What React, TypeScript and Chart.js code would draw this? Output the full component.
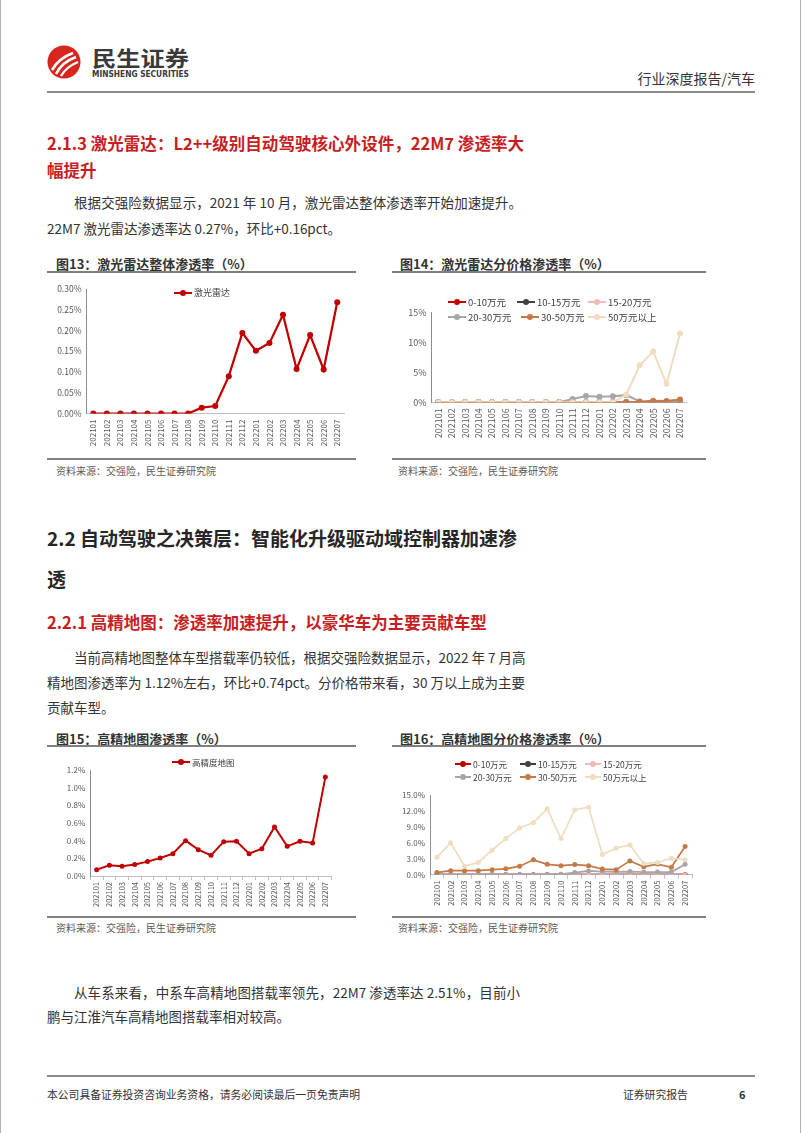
import React, { useEffect, useRef } from "react";
import { Chart, registerables } from "chart.js";
Chart.register(...registerables);

// ---------- data ----------
const months = [
  "202101", "202102", "202103", "202104", "202105", "202106", "202107", "202108", "202109", "202110",
  "202111", "202112", "202201", "202202", "202203", "202204", "202205", "202206", "202207",
];

// Fig 13: lidar overall penetration (%)
const lidarName = "激光雷达";
const lidarTotal = [0, 0, 0, 0, 0, 0, 0, 0, 0.014, 0.018, 0.09, 0.194, 0.151, 0.17, 0.238, 0.107, 0.189, 0.106, 0.268];
const lidarYTicks = [0, 0.05, 0.1, 0.15, 0.2, 0.25, 0.3];

// price bands
const bandNames = ["0-10万元", "10-15万元", "15-20万元", "20-30万元", "30-50万元", "50万元以上"];
const bandColors = ["#C00000", "#404040", "#F2B8B8", "#A6A6A6", "#C47A46", "#F0DCC0"];

// Fig 14: lidar by price band (%)
const lidar0_10 = [0, 0, 0, 0, 0, 0, 0, 0, 0, 0, 0, 0, 0, 0, 0, 0, 0, 0, 0];
const lidar10_15 = [0, 0, 0, 0, 0, 0, 0, 0, 0, 0, 0, 0, 0, 0, 0, 0, 0, 0, 0];
const lidar15_20 = [0, 0, 0, 0, 0, 0, 0, 0, 0, 0, 0, 0, 0, 0, 0, 0, 0, 0, 0];
const lidar20_30 = [0, 0, 0, 0, 0, 0, 0, 0, 0, 0, 0.55, 1.05, 0.95, 1.0, 1.2, 0.15, 0.1, 0.1, 0.15];
const lidar30_50 = [0, 0, 0, 0, 0, 0, 0, 0, 0, 0, 0, 0, 0, 0, 0, 0.1, 0.25, 0.2, 0.45];
const lidar50 = [0, 0, 0, 0, 0, 0, 0, 0, 0, 0, 0, 0, 0, 0, 1.3, 6.2, 8.5, 3.1, 11.5];
const lidarBandYTicks = [0, 5, 10, 15];

// Fig 15: HD map overall penetration (%)
const hdName = "高精度地图";
const hdTotal = [0.072, 0.121, 0.11, 0.13, 0.163, 0.204, 0.253, 0.4, 0.298, 0.234, 0.389, 0.392, 0.253, 0.309, 0.555, 0.336, 0.392, 0.374, 1.12];
const hdYTicks = [0, 0.2, 0.4, 0.6, 0.8, 1.0, 1.2];

// Fig 16: HD map by price band (%)
const hd0_10 = [0, 0, 0, 0, 0, 0, 0, 0, 0, 0, 0, 0, 0, 0, 0, 0, 0, 0, 0];
const hd10_15 = [0, 0, 0, 0, 0, 0, 0, 0, 0, 0, 0, 0, 0, 0, 0, 0, 0, 0, 0];
const hd15_20 = [0, 0, 0, 0, 0, 0, 0, 0, 0, 0, 0, 0, 0, 0, 0, 0, 0, 0, 0];
const hd20_30 = [0, 0, 0, 0, 0, 0, 0, 0, 0, 0.1, 0.4, 0.7, 0.6, 0.55, 0.6, 0.5, 0.5, 0.5, 1.95];
const hd30_50 = [0.4, 0.75, 0.75, 0.75, 0.95, 1.1, 1.6, 2.8, 1.95, 1.7, 1.9, 1.7, 1.05, 0.95, 2.6, 1.5, 2.0, 1.4, 5.3];
const hd50 = [3.3, 6.0, 1.6, 2.3, 4.6, 6.8, 8.8, 9.8, 12.4, 6.8, 12.2, 12.7, 3.8, 5.0, 5.6, 2.1, 2.3, 3.1, 2.8];
const hdBandYTicks = [0, 3, 6, 9, 12, 15];

// ---------- helpers ----------
const FONT = '"Noto Sans CJK SC", "Noto Sans", sans-serif';
Chart.defaults.font.family = FONT;

type Geo = { left: number; top: number; w: number; h: number; aL: number; aR: number; aT: number; aB: number };

function buildOptions(geo: Geo, yTicks: number[], fmt: (v: number) => string, xFont: number, yFont: number, xTicks: boolean) {
  return {
    responsive: false,
    animation: false,
    events: [],
    layout: { padding: { top: geo.aT, right: geo.w - geo.aR, left: 0, bottom: 0 } },
    plugins: { legend: { display: false }, tooltip: { enabled: false } },
    scales: {
      x: {
        type: "category",
        offset: true,
        grid: { display: xTicks, drawOnChartArea: false, drawTicks: true, tickLength: 4, offset: true, color: "#bfbfbf" },
        border: { display: true, color: "#bfbfbf", width: 1 },
        ticks: { autoSkip: false, maxRotation: 90, minRotation: 90, padding: 2, color: "#595959", font: { size: xFont } },
        afterFit: (s: any) => {
          s.height = geo.h - geo.aB;
        },
      },
      y: {
        type: "linear",
        min: yTicks[0],
        max: yTicks[yTicks.length - 1],
        grid: { display: false, drawTicks: false },
        border: { display: true, color: "#8c8c8c", width: 1 },
        ticks: { padding: 5, color: "#595959", font: { size: yFont }, callback: (v: any) => fmt(Number(v)) },
        afterBuildTicks: (s: any) => {
          s.ticks = yTicks.map((v) => ({ value: v }));
        },
        afterFit: (s: any) => {
          s.width = geo.aL;
        },
      },
    },
  };
}

function ds(label: string, data: number[], color: string, order: number, lw: number, r: number) {
  return {
    label,
    data,
    borderColor: color,
    backgroundColor: color,
    borderWidth: lw,
    pointRadius: r,
    pointBorderWidth: 0,
    pointBackgroundColor: color,
    tension: 0,
    order,
  };
}

function ChartBox({ geo, make }: { geo: Geo; make: () => any }) {
  const ref = useRef<HTMLCanvasElement>(null);
  useEffect(() => {
    const chart = new Chart(ref.current as HTMLCanvasElement, make());
    return () => chart.destroy();
  }, []);
  return (
    <div style={{ position: "absolute", left: geo.left, top: geo.top, width: geo.w, height: geo.h }}>
      <canvas ref={ref} width={geo.w} height={geo.h} style={{ width: geo.w, height: geo.h, display: "block" }} />
    </div>
  );
}

function Leg({ x, y, color, text, size, w = 18 }: { x: number; y: number; color: string; text: string; size: number; w?: number }) {
  return (
    <>
      <div style={{ position: "absolute", left: x, top: y - 1, width: w, height: 2, background: color }} />
      <div style={{ position: "absolute", left: x + w / 2 - 3, top: y - 3, width: 6, height: 6, borderRadius: 3, background: color }} />
      <div
        style={{
          position: "absolute",
          left: x + w + 2,
          top: y - size * 0.75,
          fontSize: size,
          lineHeight: `${size * 1.5}px`,
          color: "#404040",
          whiteSpace: "nowrap",
        }}
      >
        {text}
      </div>
    </>
  );
}

function T({
  x, y, size, children, color = "#333", weight = 400, w, right,
}: { x: number; y: number; size: number; children: any; color?: string; weight?: number; w?: number; right?: boolean }) {
  const lh = Math.round(size * 1.5);
  const st: any = {
    position: "absolute",
    top: y - lh / 2,
    fontSize: size,
    lineHeight: `${lh}px`,
    color,
    fontWeight: weight,
    whiteSpace: "nowrap",
  };
  if (right) st.right = 802 - x;
  else st.left = x;
  if (w) {
    st.width = w;
    st.textAlign = "justify";
    st.textAlignLast = "justify";
  }
  return <div style={st}>{children}</div>;
}

function HLine({ x1, x2, y, color = "#7f7f7f", t = 2 }: { x1: number; x2: number; y: number; color?: string; t?: number }) {
  return <div style={{ position: "absolute", left: x1, top: y - t / 2, width: x2 - x1, height: t, background: color }} />;
}

// ---------- geometry ----------
const g13: Geo = { left: 47, top: 278, w: 310, h: 180, aL: 39.5, aR: 297, aT: 11, aB: 135.5 };
const g14: Geo = { left: 392, top: 278, w: 314, h: 180, aL: 39.6, aR: 294.7, aT: 34.7, aB: 124.3 };
const g15: Geo = { left: 47, top: 750, w: 310, h: 165, aL: 43.3, aR: 284.7, aT: 20, aB: 126 };
const g16: Geo = { left: 392, top: 750, w: 314, h: 165, aL: 38, aR: 300, aT: 45, aB: 124.7 };

const make13 = () => ({
  type: "line",
  data: { labels: months, datasets: [ds(lidarName, lidarTotal, "#C00000", 0, 2.25, 3)] },
  options: buildOptions(g13, lidarYTicks, (v) => v.toFixed(2) + "%", 8, 8.5, false),
});

const lidarBands = [lidar0_10, lidar10_15, lidar15_20, lidar20_30, lidar30_50, lidar50];
const make14 = () => ({
  type: "line",
  data: { labels: months, datasets: lidarBands.map((d, i) => ds(bandNames[i], d, bandColors[i], 5 - i, 2, 3)) },
  options: buildOptions(g14, lidarBandYTicks, (v) => v.toFixed(0) + "%", 9, 9, false),
});

const make15 = () => ({
  type: "line",
  data: { labels: months, datasets: [ds(hdName, hdTotal, "#C00000", 0, 2, 2.5)] },
  options: buildOptions(g15, hdYTicks, (v) => v.toFixed(1) + "%", 7.5, 8, true),
});

const hdBands = [hd0_10, hd10_15, hd15_20, hd20_30, hd30_50, hd50];
const make16 = () => ({
  type: "line",
  data: { labels: months, datasets: hdBands.map((d, i) => ds(bandNames[i], d, bandColors[i], 5 - i, 1.75, 2.5)) },
  options: buildOptions(g16, hdBandYTicks, (v) => v.toFixed(1) + "%", 7.5, 8, true),
});

// legend layout columns
const leg14 = [
  { x: 448, y: 302 }, { x: 517, y: 302 }, { x: 588, y: 302 },
  { x: 448, y: 317 }, { x: 521, y: 317 }, { x: 588, y: 317 },
];
const leg16 = [
  { x: 455, y: 764 }, { x: 520, y: 764 }, { x: 585, y: 764 },
  { x: 455, y: 777 }, { x: 520, y: 777 }, { x: 585, y: 777 },
];

const RED = "#C71D23";

export default function App() {
  return (
    <div
      style={{
        position: "absolute",
        left: 0,
        top: 0,
        width: 802,
        height: 1133,
        background: "#fff",
        overflow: "hidden",
        fontFamily: FONT,
      }}
    >
      <div style={{ position: "absolute", left: 0, top: 0, width: 1, height: 1133, background: "#b0b0b0" }} />
      <div style={{ position: "absolute", left: 800, top: 0, width: 1, height: 1133, background: "#b0b0b0" }} />

      {/* header */}
      <svg style={{ position: "absolute", left: 47, top: 45 }} width={34} height={34} viewBox="0 0 34 34">
        <circle cx={17} cy={17} r={16.5} fill="#D7261E" />
        <path d="M5 25 Q 12 13 26 8" stroke="#fff" strokeWidth={2.6} fill="none" />
        <path d="M9 29 Q 15 17 29 12" stroke="#fff" strokeWidth={2.6} fill="none" />
        <path d="M14 31 Q 19 22 31 17" stroke="#fff" strokeWidth={2.2} fill="none" />
      </svg>
      <svg style={{ position: "absolute", left: 90, top: 46 }} width={104} height={36}>
        <text x={2} y={20} fontSize={21} fontWeight={700} fill="#3a3a3a" textLength={97} lengthAdjust="spacingAndGlyphs" fontFamily={FONT}>
          民生证券
        </text>
        <text x={2} y={31} fontSize={8} fontWeight={700} fill="#3a3a3a" textLength={97} lengthAdjust="spacingAndGlyphs" fontFamily='"DejaVu Sans", sans-serif'>
          MINSHENG SECURITIES
        </text>
      </svg>
      <T x={755} y={78} size={14} color="#333" right>
        行业深度报告/汽车
      </T>
      <HLine x1={47} x2={755} y={92} color="#8c8c8c" t={2} />

      {/* section 2.1.3 */}
      <T x={47} y={143} size={16.5} weight={700} color={RED} w={477}>
        2.1.3 激光雷达：L2++级别自动驾驶核心外设件，22M7 渗透率大
      </T>
      <T x={47} y={170} size={16.5} weight={700} color={RED}>
        幅提升
      </T>
      <T x={74} y={202} size={13.5} w={448}>
        根据交强险数据显示，2021 年 10 月，激光雷达整体渗透率开始加速提升。
      </T>
      <T x={47} y={228} size={13.5}>
        22M7 激光雷达渗透率达 0.27%，环比+0.16pct。
      </T>

      {/* fig 13 / 14 */}
      <T x={56} y={264} size={13} weight={700} color="#333">
        图13：激光雷达整体渗透率（%）
      </T>
      <T x={400} y={264} size={13} weight={700} color="#333">
        图14：激光雷达分价格渗透率（%）
      </T>
      <HLine x1={47} x2={356} y={272} />
      <HLine x1={392} x2={706} y={272} />

      <ChartBox geo={g13} make={make13} />
      <Leg x={174} y={293} color="#C00000" text={lidarName} size={9} />

      <ChartBox geo={g14} make={make14} />
      {bandNames.map((n, i) => (
        <Leg key={n} x={leg14[i].x} y={leg14[i].y} color={bandColors[i]} text={n} size={9.5} />
      ))}

      <HLine x1={47} x2={356} y={459} />
      <HLine x1={392} x2={706} y={459} />
      <T x={56} y={470} size={10} color="#595959">
        资料来源：交强险，民生证券研究院
      </T>
      <T x={398} y={470} size={10} color="#595959">
        资料来源：交强险，民生证券研究院
      </T>

      {/* section 2.2 */}
      <T x={47} y={537} size={19} weight={700} color="#262626">
        2.2 自动驾驶之决策层：智能化升级驱动域控制器加速渗
      </T>
      <T x={47} y={578} size={19} weight={700} color="#262626">
        透
      </T>
      <T x={47} y={622} size={16.5} weight={700} color={RED}>
        2.2.1 高精地图：渗透率加速提升，以豪华车为主要贡献车型
      </T>
      <T x={74} y={657} size={13.5} w={448}>
        当前高精地图整体车型搭载率仍较低，根据交强险数据显示，2022 年 7 月高
      </T>
      <T x={47} y={682} size={13.5} w={475}>
        精地图渗透率为 1.12%左右，环比+0.74pct。分价格带来看，30 万以上成为主要
      </T>
      <T x={47} y={707} size={13.5}>
        贡献车型。
      </T>

      {/* fig 15 / 16 */}
      <T x={56} y={739} size={13} weight={700} color="#333">
        图15：高精地图渗透率（%）
      </T>
      <T x={400} y={739} size={13} weight={700} color="#333">
        图16：高精地图分价格渗透率（%）
      </T>
      <HLine x1={47} x2={356} y={746} />
      <HLine x1={392} x2={706} y={746} />

      <ChartBox geo={g15} make={make15} />
      <Leg x={172} y={762} color="#C00000" text={hdName} size={8.5} />

      <ChartBox geo={g16} make={make16} />
      {bandNames.map((n, i) => (
        <Leg key={n} x={leg16[i].x} y={leg16[i].y} color={bandColors[i]} text={n} size={8.5} w={16} />
      ))}

      <HLine x1={47} x2={356} y={917} />
      <HLine x1={392} x2={706} y={917} />
      <T x={56} y={927} size={10} color="#595959">
        资料来源：交强险，民生证券研究院
      </T>
      <T x={398} y={927} size={10} color="#595959">
        资料来源：交强险，民生证券研究院
      </T>

      <T x={74} y={992} size={13.5} w={446}>
        从车系来看，中系车高精地图搭载率领先，22M7 渗透率达 2.51%，目前小
      </T>
      <T x={47} y={1016} size={13.5}>
        鹏与江淮汽车高精地图搭载率相对较高。
      </T>

      {/* footer */}
      <HLine x1={47} x2={755} y={1076} color="#8c8c8c" t={1.5} />
      <T x={47} y={1094} size={10.8} color="#333">
        本公司具备证券投资咨询业务资格，请务必阅读最后一页免责声明
      </T>
      <T x={623} y={1094} size={10.8} color="#333">
        证券研究报告
      </T>
      <T x={739} y={1094} size={11} weight={700} color="#333">
        6
      </T>
    </div>
  );
}
